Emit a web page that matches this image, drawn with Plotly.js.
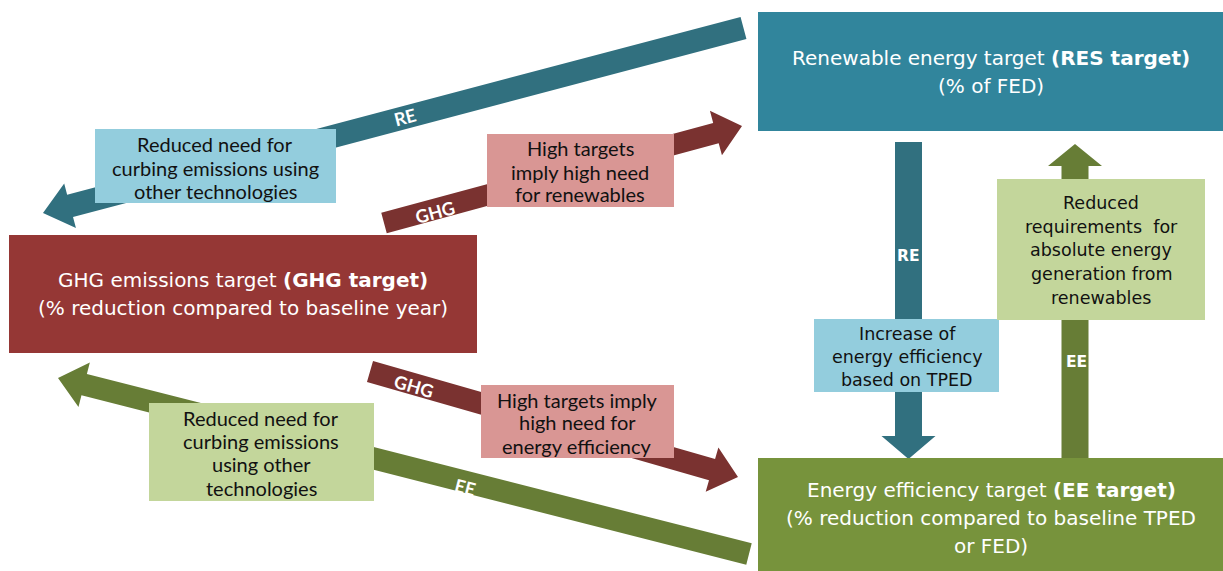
<!DOCTYPE html>
<html><head><meta charset="utf-8">
<script src="https://cdn.plot.ly/plotly-3.0.1.min.js"></script>
<style>html,body{margin:0;padding:0;background:#fff;overflow:hidden}#chart{width:1223px;height:571px}</style>
</head><body><div id="chart"></div>
<script>
// ---- Data (texts) ----
const targetNames = ['Renewable energy target', 'GHG emissions target', 'Energy efficiency target'];
const targetTags = ['(RES target)', '(GHG target)', '(EE target)'];
const targetUnits = [
  ['(% of FED)'],
  ['(% reduction compared to baseline year)'],
  ['(% reduction compared to baseline TPED', 'or FED)']
];
const linkLabels = ['RE', 'GHG', 'GHG', 'EE', 'RE', 'EE'];
const noteTexts = [
  ['Reduced need for', 'curbing emissions using', 'other technologies'],
  ['High targets', 'imply high need', 'for renewables'],
  ['Reduced need for', 'curbing emissions', 'using other', 'technologies'],
  ['High targets imply', 'high need for', 'energy efficiency'],
  ['Increase of', 'energy efficiency', 'based on TPED'],
  ['Reduced', 'requirements  for', 'absolute energy', 'generation from', 'renewables']
];

// ---- Layout geometry (positions / styles) ----
const W = 1223, H = 571;
const targetBoxes = [
  {x0: 758, x1: 1223, y0: 12, y1: 131, fill: '#31859C', cx: 991, ys: [58, 86]},
  {x0: 9, x1: 477, y0: 235, y1: 353, fill: '#953735', cx: 243, ys: [280, 308]},
  {x0: 758, x1: 1223, y0: 458, y1: 571, fill: '#77933C', cx: 991, ys: [490, 518, 546]}
];
const arrows = [
  {t: [743.5, 28], h: [43, 213], w: 23, hw: 46, hl: 28, c: '#31707F', lab: [405, 117], rot: true},
  {t: [384, 223], h: [742, 126], w: 21, hw: 46, hl: 27, c: '#7A3230', lab: [435, 212], rot: true},
  {t: [370, 371.5], h: [738, 477], w: 22, hw: 46, hl: 27, c: '#7A3230', lab: [414, 386], rot: true},
  {t: [749, 554], h: [58, 378], w: 22, hw: 46, hl: 27, c: '#677D36', lab: [465, 487], rot: true},
  {t: [908.5, 142], h: [908.5, 459], w: 27, hw: 54, hl: 23, c: '#31707F', lab: [908, 256], rot: false},
  {t: [1075, 458], h: [1075, 144], w: 27, hw: 54, hl: 22, c: '#677D36', lab: [1076, 362], rot: false}
];
const noteBoxes = [
  {x0: 95, x1: 336, y0: 129, y1: 203, fill: '#93CDDD', cx: 215, ys: [144, 168, 191], fam: 'Lato', size: 20},
  {x0: 487, x1: 674, y0: 134, y1: 207, fill: '#D99694', cx: 580, ys: [148, 172, 194], fam: 'Lato', size: 20},
  {x0: 149, x1: 374, y0: 403, y1: 501, fill: '#C3D69B', cx: 261, ys: [418, 441, 464, 488], fam: 'Lato', size: 20},
  {x0: 481, x1: 674, y0: 385, y1: 458, fill: '#D99694', cx: 577, ys: [400, 422, 446], fam: 'Lato', size: 20},
  {x0: 814, x1: 999, y0: 319, y1: 392, fill: '#93CDDD', cx: 907, ys: [334, 357, 380], fam: 'DejaVu Sans', size: 17.5},
  {x0: 997, x1: 1205, y0: 179, y1: 320, fill: '#C3D69B', cx: 1101, ys: [203, 227, 250, 274, 298], fam: 'DejaVu Sans', size: 17.5}
];

function arrowPath(a) {
  const dx = a.h[0] - a.t[0], dy = a.h[1] - a.t[1];
  const L = Math.hypot(dx, dy);
  const ux = dx / L, uy = dy / L, nx = -uy, ny = ux;
  const bx = a.h[0] - ux * a.hl, by = a.h[1] - uy * a.hl;
  const p = (x, y) => x.toFixed(2) + ',' + y.toFixed(2);
  const s = a.w / 2, hh = a.hw / 2;
  return 'M' + p(a.t[0] + nx * s, a.t[1] + ny * s) +
    ' L' + p(bx + nx * s, by + ny * s) +
    ' L' + p(bx + nx * hh, by + ny * hh) +
    ' L' + p(a.h[0], a.h[1]) +
    ' L' + p(bx - nx * hh, by - ny * hh) +
    ' L' + p(bx - nx * s, by - ny * s) +
    ' L' + p(a.t[0] - nx * s, a.t[1] - ny * s) + ' Z';
}

const shapes = [];
const annotations = [];

arrows.forEach((a, i) => {
  shapes.push({type: 'path', xref: 'x', yref: 'y', path: arrowPath(a), fillcolor: a.c, line: {width: 0}, layer: 'above'});
  let ang = Math.atan2(a.h[1] - a.t[1], a.h[0] - a.t[0]) * 180 / Math.PI;
  if (ang > 90) ang -= 180;
  if (ang < -90) ang += 180;
  annotations.push({
    x: a.lab[0], y: a.lab[1], xref: 'x', yref: 'y', showarrow: false,
    text: '<b>' + linkLabels[i] + '</b>', textangle: a.rot ? ang : 0,
    font: {family: a.rot ? 'Lato' : 'DejaVu Sans', size: a.rot ? 18 : 15.5, color: '#ffffff'},
    xanchor: 'center', yanchor: 'middle'
  });
});

targetBoxes.forEach((b, i) => {
  shapes.push({type: 'rect', xref: 'x', yref: 'y', x0: b.x0, x1: b.x1, y0: b.y0, y1: b.y1, fillcolor: b.fill, line: {width: 0}, layer: 'above'});
  const lines = [targetNames[i] + ' <b>' + targetTags[i] + '</b>'].concat(targetUnits[i]);
  lines.forEach((ln, j) => {
    annotations.push({
      x: b.cx, y: b.ys[j], xref: 'x', yref: 'y', showarrow: false, text: ln,
      font: {family: 'DejaVu Sans', size: 20, color: '#ffffff'}, xanchor: 'center', yanchor: 'middle'
    });
  });
});

noteBoxes.forEach((b, i) => {
  shapes.push({type: 'rect', xref: 'x', yref: 'y', x0: b.x0, x1: b.x1, y0: b.y0, y1: b.y1, fillcolor: b.fill, line: {width: 0}, layer: 'above'});
  noteTexts[i].forEach((ln, j) => {
    annotations.push({
      x: b.cx, y: b.ys[j], xref: 'x', yref: 'y', showarrow: false, text: ln.replace(/  /g, '&nbsp; '),
      font: {family: b.fam, size: b.size, color: '#111111'}, xanchor: 'center', yanchor: 'middle'
    });
  });
});

const layout = {
  width: W, height: H,
  margin: {l: 0, r: 0, t: 0, b: 0, pad: 0},
  paper_bgcolor: '#ffffff', plot_bgcolor: '#ffffff',
  xaxis: {range: [0, W], visible: false, fixedrange: true},
  yaxis: {range: [H, 0], visible: false, fixedrange: true},
  showlegend: false,
  shapes: shapes,
  annotations: annotations
};

Plotly.newPlot('chart', [], layout, {displayModeBar: false, staticPlot: true});
</script>
</body></html>
